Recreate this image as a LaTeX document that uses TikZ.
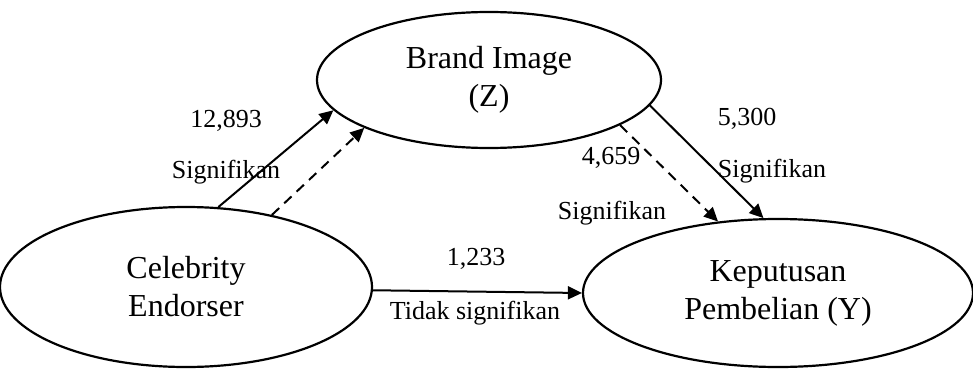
\documentclass[tikz,border=0pt]{standalone}
\usepackage{fontspec}
\setmainfont{Liberation Serif}
\usetikzlibrary{shapes.geometric,arrows.meta}

\tikzset{
  latent/.style={ellipse, draw, line width=1.1pt, inner sep=0pt, align=center,
    font=\fontsize{16}{19}\selectfont},
  coef/.style={font=\fontsize{13}{15}\selectfont},
  effect/.style={line width=1pt, -{Triangle[length=7pt,width=6.5pt]}},
  viaz/.style={effect, dash pattern=on 5pt off 3.5pt},
}

\begin{document}
\begin{tikzpicture}[x=0.5pt,y=-0.5pt]
    \useasboundingbox (0,0) rectangle (973,369);

    % Draw constructs
    \node[latent, minimum width=172pt, minimum height=68pt] (brand) at (489,80) {Brand Image\\(Z)};
    \node[latent, minimum width=186pt, minimum height=80pt] (celeb) at (186,287) {Celebrity\\Endorser};
    \node[latent, minimum width=195pt, minimum height=74pt] (kep) at (778,293) {Keputusan\\Pembelian (Y)};

    % Direct effects
    \draw[effect] (celeb.68) -- (brand.-169.8);
    \draw[effect] (brand.-9.7) -- (kep.101.3);
    \draw[effect] (celeb.-1) -- (kep.180);

    % Paths through Z
    \draw[viaz] (celeb.40.8) -- (brand.-159.5);
    \draw[viaz] (brand.-19.4) -- (kep.130.5);

    % Coefficients
    \node[coef] (cb) at (226,121) {12,893};
    \node[coef] (cbsig) at (226,172) {Signifikan};
    \node[coef] (bk) at (747,119) {5,300};
    \node[coef] (bksig) at (772,171) {Signifikan};
    \node[coef] (ind) at (611,158) {4,659};
    \node[coef] (indsig) at (612,213) {Signifikan};
    \node[coef] (ck) at (476,259) {1,233};
    \node[coef] (cksig) at (475,313) {Tidak signifikan};
\end{tikzpicture}
\end{document}
